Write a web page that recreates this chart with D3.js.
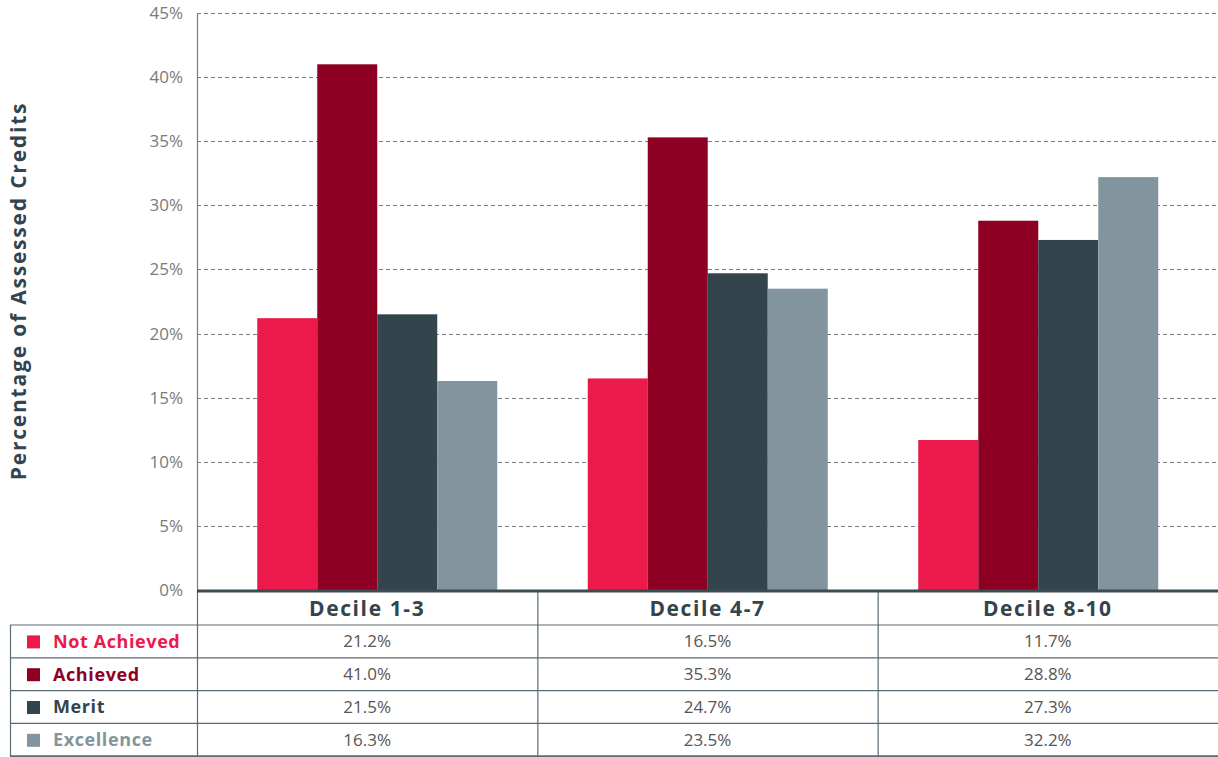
<!DOCTYPE html>
<html>
<head>
<meta charset="utf-8">
<script src="https://cdn.jsdelivr.net/npm/d3@7"></script>
<style>
  body { margin: 0; background: #fff; }
  svg { display: block; font-family: "Open Sans", Lato, sans-serif; }
</style>
</head>
<body>
<div class="chart"></div>
<script>
var categories = ["Decile 1-3", "Decile 4-7", "Decile 8-10"];
var seriesNames = ["Not Achieved", "Achieved", "Merit", "Excellence"];
var notAchieved = [21.2, 16.5, 11.7];
var achieved = [41.0, 35.3, 28.8];
var merit = [21.5, 24.7, 27.3];
var excellence = [16.3, 23.5, 32.2];
var yTicks = [0, 5, 10, 15, 20, 25, 30, 35, 40, 45];
var colors = ["#ec194b", "#8d0024", "#33444d", "#82959e"];

var values = [notAchieved, achieved, merit, excellence];

var width = 1218, height = 757;
var plotLeft = 197, plotRight = 1218, plotTop = 13, plotBottom = 590;

var svg = d3.select(".chart").append("svg")
    .attr("width", width)
    .attr("height", height);

// table columns
var x = d3.scaleBand()
    .domain(categories)
    .range([plotLeft, plotRight])
    .padding(0);

// bar groups (slightly offset from table columns, as in the original)
var xBars = d3.scaleBand()
    .domain(categories)
    .range([212, 1203.5])
    .padding(0);

var groupWidth = 240;
var inner = d3.scaleBand()
    .domain(seriesNames)
    .range([(xBars.bandwidth() - groupWidth) / 2, (xBars.bandwidth() + groupWidth) / 2])
    .padding(0);

var y = d3.scaleLinear()
    .domain([0, 45])
    .range([plotBottom, plotTop]);

// gridlines
svg.append("g")
  .selectAll("line")
  .data(yTicks.slice(1))
  .enter().append("line")
    .attr("x1", plotLeft)
    .attr("x2", plotRight)
    .attr("y1", function(d) { return Math.round(y(d)) + 0.5; })
    .attr("y2", function(d) { return Math.round(y(d)) + 0.5; })
    .attr("stroke", "#6f8089")
    .attr("stroke-dasharray", "4,3")
    .attr("stroke-width", 1);

// y tick labels
svg.append("g")
  .selectAll("text")
  .data(yTicks)
  .enter().append("text")
    .attr("x", 183)
    .attr("y", function(d) { return y(d); })
    .attr("dy", "0.35em")
    .attr("text-anchor", "end")
    .attr("fill", "#7a7a7a")
    .attr("font-size", 17)
    .text(function(d) { return d + "%"; });

// bars
var groups = svg.append("g")
  .selectAll("g")
  .data(categories)
  .enter().append("g")
    .attr("transform", function(d) { return "translate(" + xBars(d) + ",0)"; });

groups.selectAll("rect")
  .data(function(d, i) {
    return seriesNames.map(function(s, j) { return {series: s, value: values[j][i], idx: j}; });
  })
  .enter().append("rect")
    .attr("x", function(d) { return inner(d.series); })
    .attr("width", inner.bandwidth())
    .attr("y", function(d) { return y(d.value); })
    .attr("height", function(d) { return y(0) - y(d.value); })
    .attr("fill", function(d) { return colors[d.idx]; });

// y axis line
svg.append("line")
    .attr("x1", plotLeft + 0.5).attr("x2", plotLeft + 0.5)
    .attr("y1", plotTop).attr("y2", plotBottom)
    .attr("stroke", "#6f8089").attr("stroke-width", 1.2);

// y axis title
svg.append("text")
    .attr("transform", "translate(26,291) rotate(-90)")
    .attr("text-anchor", "middle")
    .attr("fill", "#33444d")
    .attr("font-size", 21)
    .attr("font-weight", "bold")
    .attr("letter-spacing", 1.8)
    .text("Percentage of Assessed Credits");

// table
var rowTop = 625, rowH = 32.8;
var table = svg.append("g");

var hLines = d3.range(5).map(function(i) { return rowTop + i * rowH; });
table.selectAll("line.h")
  .data(hLines)
  .enter().append("line")
    .attr("class", "h")
    .attr("x1", 10).attr("x2", plotRight)
    .attr("y1", function(d) { return d; })
    .attr("y2", function(d) { return d; })
    .attr("stroke", "#5b6b74")
    .attr("stroke-width", function(d, i) { return i === 4 ? 2 : 1.2; });

table.append("line")
    .attr("x1", 10.5).attr("x2", 10.5)
    .attr("y1", rowTop).attr("y2", rowTop + 4 * rowH)
    .attr("stroke", "#5b6b74").attr("stroke-width", 1.2);
table.selectAll("line.v")
  .data(categories)
  .enter().append("line")
    .attr("class", "v")
    .attr("x1", function(d) { return x(d) + 0.5; })
    .attr("x2", function(d) { return x(d) + 0.5; })
    .attr("y1", plotBottom).attr("y2", rowTop + 4 * rowH)
    .attr("stroke", "#5b6b74").attr("stroke-width", 1.2);

// x axis baseline
svg.append("line")
    .attr("x1", plotLeft).attr("x2", plotRight)
    .attr("y1", plotBottom + 1).attr("y2", plotBottom + 1)
    .attr("stroke", "#3d4b53").attr("stroke-width", 3);

// header labels
table.selectAll("text.head")
  .data(categories)
  .enter().append("text")
    .attr("class", "head")
    .attr("x", function(d) { return x(d) + x.bandwidth() / 2; })
    .attr("y", 609)
    .attr("dy", "0.35em")
    .attr("text-anchor", "middle")
    .attr("fill", "#33444d")
    .attr("font-size", 21)
    .attr("font-weight", "bold")
    .attr("letter-spacing", 1.6)
    .text(function(d) { return d; });

// legend rows
var legendRows = table.selectAll("g.lrow")
  .data(seriesNames)
  .enter().append("g")
    .attr("class", "lrow")
    .attr("transform", function(d, i) { return "translate(0," + (rowTop + i * rowH + rowH / 2) + ")"; });

legendRows.append("rect")
    .attr("x", 27).attr("y", -6)
    .attr("width", 13).attr("height", 13)
    .attr("fill", function(d, i) { return colors[i]; });

legendRows.append("text")
    .attr("x", 53)
    .attr("dy", "0.35em")
    .attr("fill", function(d, i) { return colors[i]; })
    .attr("font-size", 18)
    .attr("font-weight", "bold")
    .attr("letter-spacing", 0.6)
    .text(function(d) { return d; });

// values
legendRows.selectAll("text.val")
  .data(function(d, j) { return categories.map(function(c, i) { return {cat: c, value: values[j][i]}; }); })
  .enter().append("text")
    .attr("class", "val")
    .attr("x", function(d) { return x(d.cat) + x.bandwidth() / 2; })
    .attr("dy", "0.35em")
    .attr("text-anchor", "middle")
    .attr("fill", "#555")
    .attr("font-size", 17)
    .text(function(d) { return d.value.toFixed(1) + "%"; });
</script>
</body>
</html>
